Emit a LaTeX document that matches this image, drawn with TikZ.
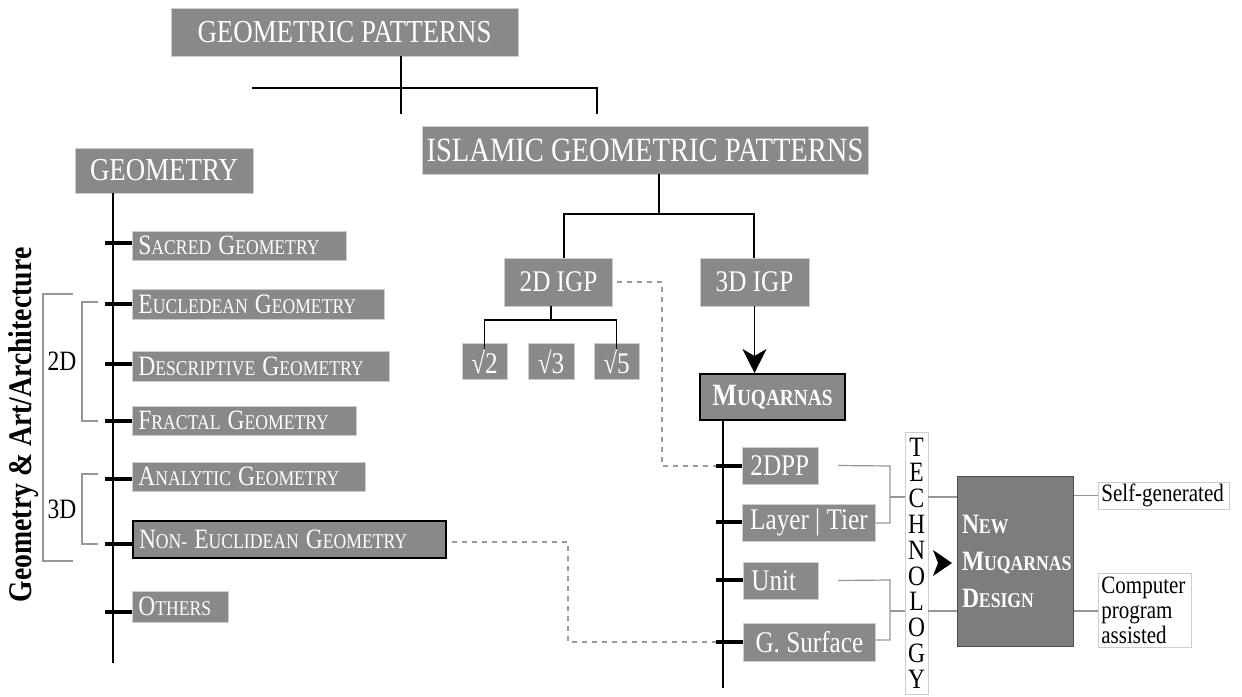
\documentclass[tikz,border=0pt]{standalone}
\usepackage{fontspec}
\setmainfont[FakeStretch=0.84]{Liberation Serif}
\usetikzlibrary{arrows.meta}
\definecolor{boxgray}{RGB}{137,137,137}
\definecolor{newgray}{RGB}{125,125,125}
\definecolor{edgegray}{RGB}{205,205,205}
\definecolor{brgray}{RGB}{150,150,150}
\definecolor{dashgray}{RGB}{155,155,155}
\newcommand\SCa[2]{{\fontsize{28}{28}\selectfont #1}{\fontsize{21}{21}\selectfont #2}}
\newcommand\SCb[2]{{\fontsize{31}{31}\selectfont #1}{\fontsize{23}{23}\selectfont #2}}
\newcommand\SCc[2]{{\fontsize{28}{28}\selectfont #1}{\fontsize{21}{21}\selectfont #2}}
\tikzset{
  gbox/.style={fill=boxgray, draw=edgegray, line width=0.8pt, text=white, inner sep=0pt},
  listbox/.style={gbox, anchor=west, inner xsep=6pt, align=left, font=\fontsize{21}{21}\selectfont},
  rbox/.style={gbox, anchor=west, inner xsep=8pt, font=\fontsize{30}{30}\selectfont},
  strongbox/.style={draw=black, line width=2pt},
  wbox/.style={fill=white, draw=edgegray, line width=0.8pt, text=black, inner sep=0pt, anchor=west, inner xsep=3pt, align=left, font=\fontsize{25}{25}\selectfont},
  conn/.style={draw=black, line width=1.5pt},
  spine/.style={draw=black, line width=2pt},
  tick/.style={draw=black, line width=3.5pt},
  bracket/.style={draw=brgray, line width=1.2pt},
  dashline/.style={draw=dashgray, line width=1.6pt, dash pattern=on 5pt off 5pt},
}
\begin{document}
\begin{tikzpicture}[x=1pt,y=-1pt]
\useasboundingbox (0,0) rectangle (1242,696);

% titles
\node[gbox, minimum width=347, minimum height=48, font=\fontsize{32}{32}\selectfont] (gp) at (344.5,32) {GEOMETRIC PATTERNS};
\node[gbox, minimum width=446, minimum height=48, font=\fontsize{34}{34}\selectfont] (igp) at (645,150) {ISLAMIC GEOMETRIC PATTERNS};
\node[gbox, minimum width=178, minimum height=45, font=\fontsize{32}{32}\selectfont] (geo) at (164,170.5) {GEOMETRY};

% GP connectors
\coordinate (gpa) at (401,114);
\coordinate (gpl) at (252,88);
\coordinate (gpr) at (597,114);
\draw[line width=1.2pt] (gp.south -| gpa) -- (gpa);
\draw[line width=1.2pt] (gpl) -- (gpl -| gpr) -- (gpr);

% left list
\node[listbox, minimum height=29, text width=202] (sacred) at (132,245.5) {\SCa{S}{ACRED} \SCa{G}{EOMETRY}};
\node[listbox, minimum height=30, text width=240] (eucl) at (132,304) {\SCa{E}{UCLEDEAN} \SCa{G}{EOMETRY}};
\node[listbox, minimum height=30, text width=245] (desc) at (132,366) {\SCa{D}{ESCRIPTIVE} \SCa{G}{EOMETRY}};
\node[listbox, minimum height=29, text width=212] (fract) at (132,420.5) {\SCa{F}{RACTAL} \SCa{G}{EOMETRY}};
\node[listbox, minimum height=29, text width=221] (anal) at (132,476.5) {\SCa{A}{NALYTIC} \SCa{G}{EOMETRY}};
\node[listbox, strongbox, minimum height=37, text width=301] (noneu) at (132,539.5) {\SCa{N}{ON}- \SCa{E}{UCLIDEAN} \SCa{G}{EOMETRY}};
\node[listbox, minimum height=31, text width=84] (others) at (132,606.5) {\SCa{O}{THERS}};

% left spine and ticks
\coordinate (gspine) at (113,663);
\draw[spine] (geo.south -| gspine) -- (gspine);
\draw[tick] (105,243) -- (sacred.west |- 0,243);
\draw[tick] (105,304) -- (eucl.west);
\draw[tick] (105,364) -- (desc.west |- 0,364);
\draw[tick] (105,421) -- (fract.west |- 0,421);
\draw[tick] (105,479) -- (anal.west |- 0,479);
\draw[tick] (105,544) -- (noneu.west |- 0,544);
\draw[tick] (105,612) -- (others.west |- 0,612);

% brackets left
\draw[bracket] (73,294) -- (43,294) -- (43,561) -- (73,561);
\draw[bracket] (98,302) -- (82,302) -- (82,421) -- (98,421);
\draw[bracket] (98,474) -- (82,474) -- (82,544) -- (98,544);
\node[font=\fontsize{28}{28}\selectfont, inner sep=0pt] (lab2d) at (62,361) {2D};
\node[font=\fontsize{28}{28}\selectfont, inner sep=0pt] (lab3d) at (62,509) {3D};
\node[rotate=90, font=\fontsize{33}{33}\selectfont\bfseries, inner sep=0pt] (side) at (24,425) {Geometry \& Art/Architecture};

% IGP branch
\node[gbox, minimum width=108, minimum height=48, font=\fontsize{30}{30}\selectfont] (igp2) at (558.5,282) {2D IGP};
\node[gbox, minimum width=109, minimum height=48, font=\fontsize{30}{30}\selectfont] (igp3) at (754.5,282) {3D IGP};
\coordinate (igpm) at (659,214);
\coordinate (igpl) at (564,214);
\coordinate (igpr) at (754,214);
\draw[conn] (igp.south -| igpm) -- (igpm);
\draw[conn] (igp2.north -| igpl) -- (igpl) -- (igpr) -- (igp3.north -| igpr);

% roots
\node[gbox, minimum width=45, minimum height=36, font=\fontsize{30}{30}\selectfont] (r2) at (484.5,361.5) {√2};
\node[gbox, minimum width=46, minimum height=36, font=\fontsize{30}{30}\selectfont] (r3) at (551,361.5) {√3};
\node[gbox, minimum width=45, minimum height=36, font=\fontsize{30}{30}\selectfont] (r5) at (616.5,361.5) {√5};
\coordinate (rm) at (551,320);
\draw[conn] (igp2.south -| rm) -- (rm);
\draw[conn] ([yshift=-6]r2.north) -- (r2.north |- rm) -- (r5.north |- rm) -- ([yshift=-6]r5.north);

% Muqarnas
\node[gbox, strongbox, minimum width=145, minimum height=46, font=\fontsize{23}{23}\selectfont\bfseries] (muq) at (772.5,397) {\SCb{M}{UQARNAS}};
\draw[conn, -{Stealth[length=24pt, width=24pt, inset=7pt]}] (igp3.south) -- (igp3.south |- muq.north);

% Muqarnas list
\node[rbox, minimum height=37, minimum width=76, text width=60, align=left] (dpp) at (742,465.5) {2DPP};
\node[rbox, minimum height=37, minimum width=133, inner xsep=3pt] (layer) at (742,522.5) {Layer | Tier};
\node[rbox, minimum height=37, minimum width=75, text width=59, align=left] (unit) at (743,580.5) {Unit};
\node[rbox, minimum height=38, minimum width=132, inner xsep=3pt] (gsurf) at (743,642) {G. Surface};
\coordinate (mspine) at (723,688);
\draw[spine] (muq.south -| mspine) -- (mspine);
\draw[tick] (716,466) -- (dpp.west |- 0,466);
\draw[tick] (716,522) -- (layer.west |- 0,522);
\draw[tick] (716,580) -- (unit.west |- 0,580);
\draw[tick] (716,642) -- (gsurf.west |- 0,642);

% technology and new design
\node[fill=white, draw=edgegray, line width=0.8pt, minimum width=23, minimum height=262, inner sep=0pt, align=center, font=\fontsize{28}{25.8}\selectfont] (tech) at (916.5,563) {T\\E\\C\\H\\N\\O\\L\\O\\G\\Y};
\node[fill=newgray, draw=black!70, line width=1pt, minimum width=116, minimum height=170, inner sep=0pt, inner xsep=5pt, text width=106, align=left, text=white, font=\fontsize{21}{37}\selectfont\bfseries] (new) at (1015,561) {\SCc{N}{EW}\\\SCc{M}{UQARNAS}\\\SCc{D}{ESIGN}};

% brackets right
\draw[bracket] ([xshift=19]dpp.east) -- (890,466) -- (890,523) -- (layer.east |- 0,523);
\draw[bracket] (890,497) -- (tech.west |- 0,497);
\draw[bracket] (tech.east |- 0,497) -- (new.west |- 0,497);
\draw[bracket] ([xshift=19]unit.east) -- (890,580) -- (890,640) -- (gsurf.east |- 0,640);
\draw[bracket] (890,611) -- (tech.west |- 0,611);
\draw[bracket] (tech.east |- 0,611) -- (new.west |- 0,611);
\fill[black] (933,550) -- (952,563) -- (933,576) -- (938,563) -- cycle;

% outputs
\node[wbox, minimum height=27, text width=125] (self) at (1098,495.5) {Self-generated};
\node[wbox, minimum height=74, text width=87] (comp) at (1098,610) {Computer\\program\\assisted};
\draw[bracket] (new.east |- self) -- (self.west);
\draw[bracket] (new.east |- 0,611) -- (comp.west |- 0,611);

% dashed links
\draw[dashline] ([xshift=4]igp2.east) -- (662,282) -- (662,466) -- (716,466);
\draw[dashline] ([xshift=5]noneu.east |- 0,542) -- (568,542) -- (568,642) -- (716,642);
\end{tikzpicture}
\end{document}
